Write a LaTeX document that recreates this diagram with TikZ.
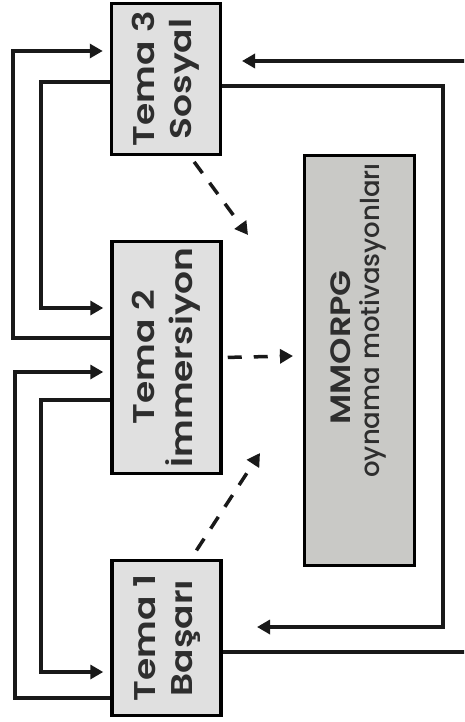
\documentclass[tikz,border=0pt]{standalone}
\usepackage{fontspec}
\setmainfont{Poppins}[BoldFont={Poppins SemiBold}]
\newfontfamily\themefont{Poppins SemiBold}[FakeStretch=1.2]
\newfontfamily\mediumfont{Poppins Medium}
\usetikzlibrary{arrows.meta}

\definecolor{themegray}{HTML}{E0E0E0}
\definecolor{goalgray}{HTML}{C9C9C6}
\definecolor{inkgray}{HTML}{2E2E2E}

\begin{document}
\begin{tikzpicture}[
    x=1pt, y=-1pt,
    theme/.style={
        draw=black,
        line width=3.5pt,
        fill=themegray,
        inner sep=0pt,
        minimum width=109pt,
        text=inkgray,
        font=\themefont\fontsize{30}{37}\selectfont
    },
    goal/.style={
        theme,
        fill=goalgray,
        minimum width=110pt,
        minimum height=410pt,
        font=\mediumfont\fontsize{26}{29}\selectfont
    },
    link/.style={
        line width=3.5pt,
        draw=black!90,
        -{Triangle[length=13pt,width=14pt]}
    },
    hint/.style={
        link,
        dash pattern=on 14pt off 12pt
    }
]
\clip (0,0) rectangle (464,722);

% Themes are stacked from the top (Tema 3) to the bottom (Tema 1).
\node[theme, minimum height=151pt] (t3) at (166,79)
    {\rotatebox{90}{\begin{tabular}{c}Tema 3\\Sosyal\end{tabular}}};
\node[theme, minimum height=206pt] (t2) at (166.5,357.5)
    {\rotatebox{90}{\begin{tabular}{c}Tema 2\\İmmersiyon\end{tabular}}};
\node[theme, minimum height=155pt] (t1) at (166.5,638)
    {\rotatebox{90}{\begin{tabular}{c}Tema 1\\Başarı\end{tabular}}};

% the text sits above the middle of the box
\node[goal] (goal) at (359.5,360.5)
    {\rotatebox{90}{\hspace*{80pt}\begin{tabular}{c}
        {\themefont\fontsize{28}{29}\selectfont MMORPG}\hspace*{54pt}\\
        oynama motivasyonları
    \end{tabular}}};

% loops between neighbouring themes, on the left
\foreach \from/\to/\ya/\yb/\xx in {
    t2/t3/338/51/13,
    t3/t2/82/308/41,
    t1/t2/698/372/15,
    t2/t1/400/672/41
}{
    \draw[link, shorten >=7pt] (\from.west |- 0,\ya) -| (\xx,\yb)
        -- (\to.west |- 0,\yb);
}

% long loops on the right
\coordinate (back1) at (257,627);
\coordinate (back3) at (242,61);
\draw[link] (t3.east |- 0,86) -| (443,627) -- (back1);
\draw[link] (t1.east |- 0,652) -| (478,61) -- (back3);

% dashed links into the motivations
\coordinate (m3) at (248,235);
\coordinate (m2) at (293,356);
\coordinate (m1) at (260,453);
\draw[hint, shorten <=7pt] (t3.south -| 190,0) -- (m3);
\draw[hint, shorten <=5pt] (t2.east) -- (m2);
\draw[hint, shorten <=10pt] (t1.north -| 191,0) -- (m1);
\end{tikzpicture}
\end{document}
